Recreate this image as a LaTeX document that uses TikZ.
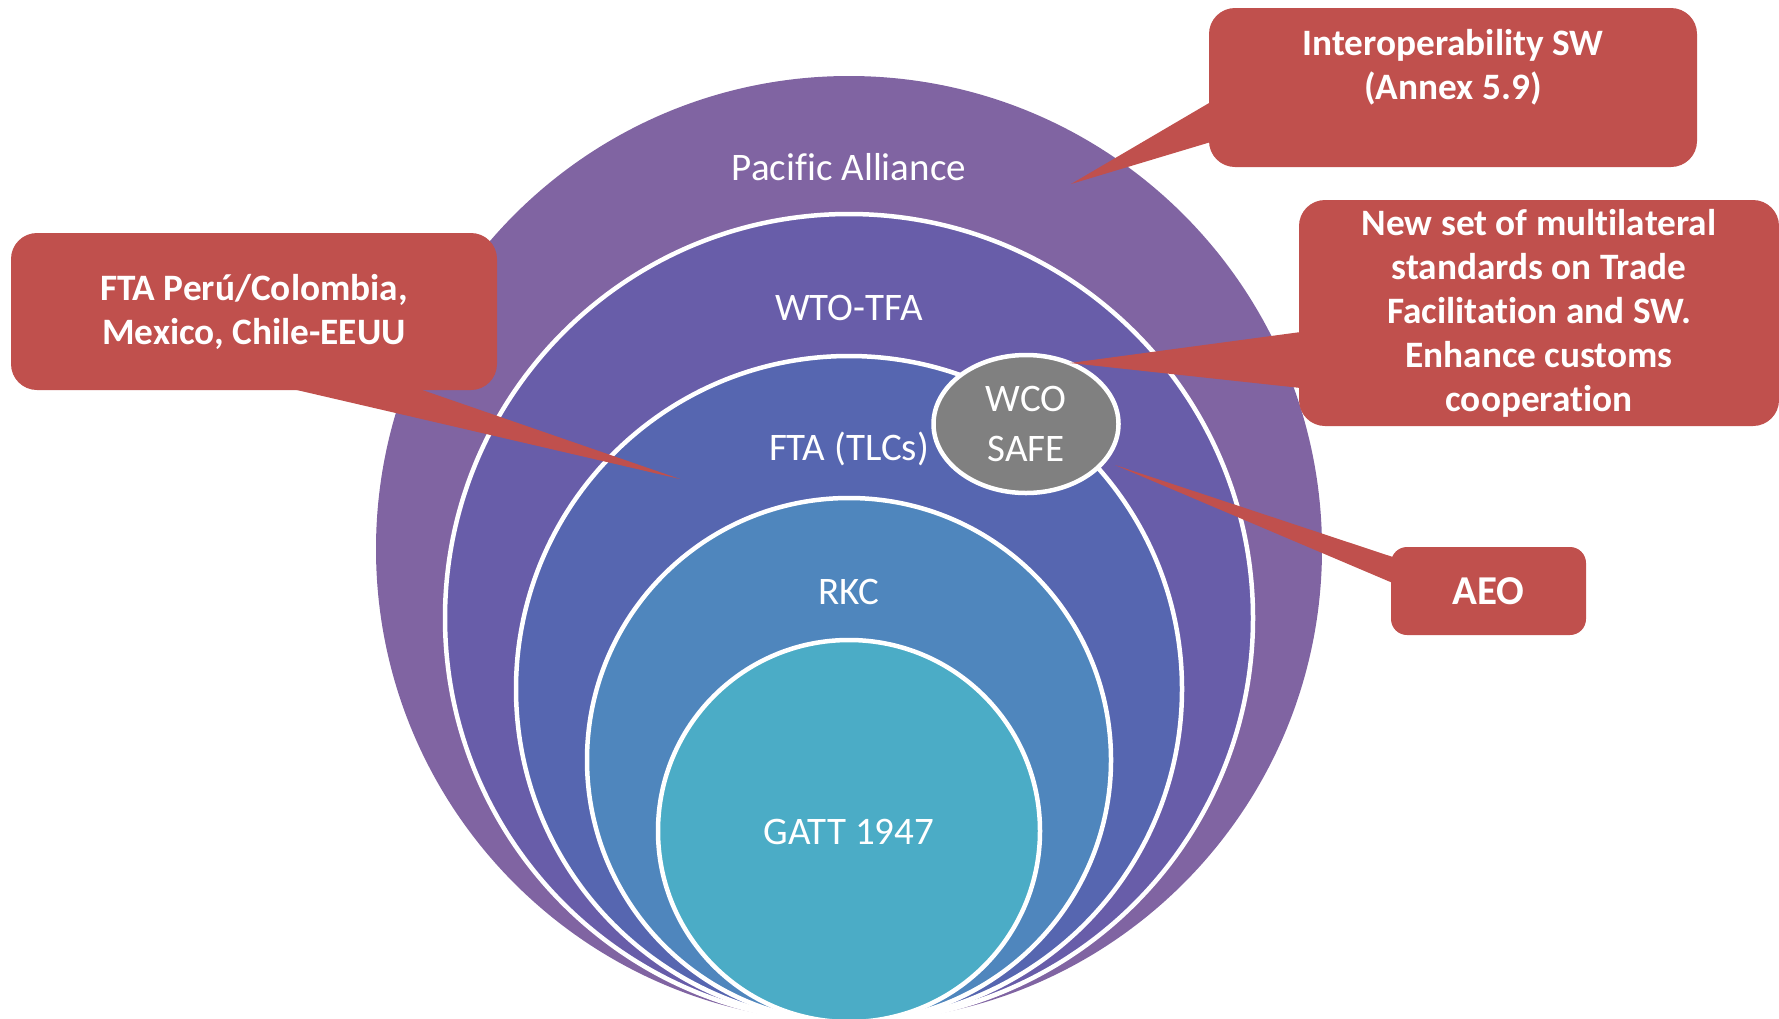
\documentclass[tikz,border=0pt]{standalone}
\usepackage{fontspec}
\setmainfont{Carlito}[Ligatures=NoCommon]
\usetikzlibrary{positioning, calc, shapes.geometric}
\definecolor{pacific}{RGB}{128,100,162}
\definecolor{wto}{RGB}{104,93,169}
\definecolor{fta}{RGB}{86,102,176}
\definecolor{rkc}{RGB}{79,134,189}
\definecolor{gatt}{RGB}{75,172,198}
\definecolor{wcogray}{RGB}{128,128,128}
\definecolor{note}{RGB}{192,80,77}
\tikzset{
  ring/.style={circle, draw=white, line width=4.5pt, inner sep=0pt},
  ringlabel/.style={text=white, align=center, inner sep=0pt,
    font=\fontsize{39}{50}\selectfont},
  wcoring/.style={ellipse, draw=white, line width=4.5pt, fill=wcogray,
    minimum width=185pt, minimum height=138pt, inner sep=0pt, text=white,
    align=center, font=\fontsize{39}{50}\selectfont},
  callout/.style={rectangle, rounded corners=26pt, fill=note, inner sep=0pt,
    text=white, align=center, font=\bfseries\fontsize{37.3}{44}\selectfont},
  notetext/.style={text=white, align=center, inner sep=0pt,
    font=\bfseries\fontsize{37.3}{44}\selectfont},
  pointer/.style={fill=note},
}

\begin{document}
\begin{tikzpicture}[x=1pt, y=-1pt]
  \useasboundingbox (0,0) rectangle (1779,1018);

  % Nested rings, all touching at the bottom
  \node[ring, draw=none, fill=pacific, minimum size=946pt] (pa)   at (849,549) {};
  \node[ring, fill=wto,  minimum size=808pt]               (wto)  at (849,618) {};
  \node[ring, fill=fta,  minimum size=666pt]               (fta)  at (849,689) {};
  \node[ring, fill=rkc,  minimum size=524pt]               (rkc)  at (849,760) {};
  \node[ring, fill=gatt, minimum size=382pt]               (gatt) at (849,831) {};

  \node[ringlabel] at (849,167) {Pacific Alliance};
  \node[ringlabel] at (849,308) {WTO-TFA};
  \node[ringlabel] at (849,449) {FTA (TLCs)};
  \node[ringlabel] at (849,592) {RKC};
  \node[ringlabel] at (849,832) {GATT 1947};

  \node[wcoring] (wco) at (1026,424) {WCO\\SAFE};

  % Callouts
  \node[callout, minimum width=488pt, minimum height=159pt] (interop) at (1453,87.5) {};
  \node[notetext] at (1453,67) {Interoperability SW\\(Annex 5.9)};
  \node[callout, minimum width=480pt, minimum height=226pt] (standards) at (1539,313)
    {New set of multilateral\\standards on Trade\\Facilitation and SW.\\Enhance customs\\cooperation};
  \node[callout, minimum width=486pt, minimum height=157pt] (ftanote) at (254,311.5)
    {FTA Perú/Colombia,\\Mexico, Chile-EEUU};
  \node[callout, rounded corners=16pt, minimum width=195pt, minimum height=88pt,
    font=\bfseries\fontsize{41}{48}\selectfont] (aeo) at (1488.5,591) {AEO};

  % Pointers
  \coordinate (interopTip)   at (1071,184);
  \coordinate (standardsTip) at (1070,363);
  \coordinate (ftaTip)       at (680,479);
  \coordinate (aeoTip)       at (1115,465);
  \fill[pointer] ([xshift=2pt, yshift=-14.5pt]interop.west) -- (interopTip)
    -- ([xshift=2pt, yshift=-54.5pt]interop.west) -- cycle;
  \fill[pointer] ([xshift=2pt, yshift=-19pt]standards.west) -- (standardsTip)
    -- ([xshift=2pt, yshift=-75pt]standards.west) -- cycle;
  \fill[pointer] ([xshift=35pt, yshift=2pt]ftanote.south) -- (ftaTip)
    -- ([xshift=163pt, yshift=2pt]ftanote.south) -- cycle;
  \fill[pointer] ([xshift=2pt, yshift=34pt]aeo.west) -- (aeoTip)
    -- ([xshift=2pt, yshift=8pt]aeo.west) -- cycle;
\end{tikzpicture}
\end{document}
